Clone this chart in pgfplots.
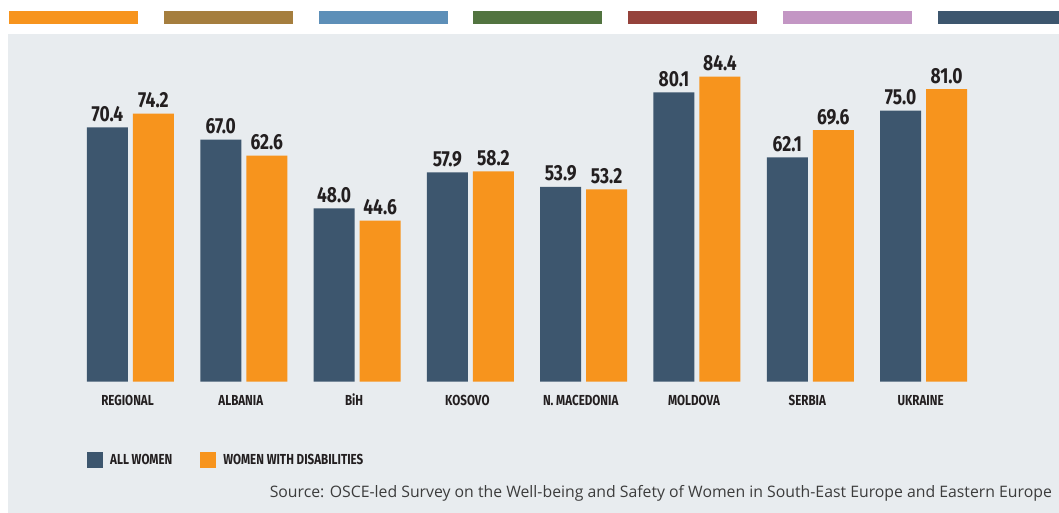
\documentclass[border=0pt]{standalone}
\usepackage{pgfplots}
\pgfplotsset{compat=1.18}
\usepackage{fontspec}
\setmainfont{Open Sans}
\newfontfamily\cond[FakeStretch=0.8]{Fira Sans}
\definecolor{panel}{HTML}{E8ECEF}
\definecolor{darkbar}{HTML}{3D566E}
\definecolor{orangebar}{HTML}{F7941D}
\definecolor{sbrown}{HTML}{A57E3E}
\definecolor{sblue}{HTML}{5D8FB8}
\definecolor{sgreen}{HTML}{527440}
\definecolor{sred}{HTML}{95423B}
\definecolor{spink}{HTML}{C396C4}
\definecolor{labeltext}{HTML}{231F20}
\definecolor{srctext}{HTML}{3C3C3C}
\begin{document}
\begin{tikzpicture}[x=1pt,y=1pt]
\useasboundingbox (0,0) rectangle (1059,513);
% top strips
\fill[orangebar] (9,489) rectangle (138,502);
\fill[sbrown] (164,489) rectangle (293,502);
\fill[sblue] (319,489) rectangle (448,502);
\fill[sgreen] (473,489) rectangle (602,502);
\fill[sred] (628,489) rectangle (757,502);
\fill[spink] (783,489) rectangle (912,502);
\fill[darkbar] (938,489) rectangle (1059,502);
% panel
\fill[panel] (8,0) rectangle (1059,479);
\begin{axis}[
  at={(17.2pt,131.3pt)}, anchor=south west,
  scale only axis, width=1019.7pt, height=325.2pt,
  xmin=-1, xmax=8, ymin=0, ymax=90,
  ybar=5pt, bar width=41pt,
  clip=false,
  axis line style={draw=none},
  tick style={draw=none},
  ytick=\empty,
  xtick={0,1,2,3,4,5,6,7},
  xticklabels={REGIONAL,ALBANIA,BiH,KOSOVO,N. MACEDONIA,MOLDOVA,SERBIA,UKRAINE},
  xticklabel style={anchor=base, yshift=-19.5pt, xshift=-3pt, inner sep=0pt,
    font=\cond\bfseries\fontsize{14.5}{16}\selectfont, text=labeltext},
  nodes near coords,
  point meta=explicit symbolic,
  every node near coord/.append style={anchor=base, yshift=6pt, inner sep=0pt,
    font=\cond\bfseries\fontsize{21.8}{24}\selectfont, text=labeltext},
  legend columns=2,
  legend style={draw=none, fill=none, at={(0.0685,-0.215)}, anchor=north west,
    inner sep=0pt, nodes={inner sep=0pt, font=\cond\bfseries\fontsize{14.5}{16}\selectfont, text=labeltext},
    /tikz/every odd column/.append style={column sep=7pt},
    /tikz/every even column/.append style={column sep=28pt}},
  legend image code/.code={\fill[#1] (0pt,-8pt) rectangle (16pt,8pt);},
]
\addplot[fill=darkbar, draw=none] coordinates {
  (0,70.4) [70.4] (1,67.0) [67.0] (2,48.0) [48.0] (3,57.9) [57.9]
  (4,53.9) [53.9] (5,80.1) [80.1] (6,62.1) [62.1] (7,75.0) [75.0]};
\addplot[fill=orangebar, draw=none] coordinates {
  (0,74.2) [74.2] (1,62.6) [62.6] (2,44.6) [44.6] (3,58.2) [58.2]
  (4,53.2) [53.2] (5,84.4) [84.4] (6,69.6) [69.6] (7,81.0) [81.0]};
\legend{ALL WOMEN, WOMEN WITH DISABILITIES}
\end{axis}
\node[anchor=base east, inner sep=0pt, text=srctext, font=\fontsize{15.8}{18}\selectfont] at (1052,15.7)
  {Source: OSCE-led Survey on the Well-being and Safety of Women in South-East Europe and Eastern Europe};
\end{tikzpicture}
\end{document}
